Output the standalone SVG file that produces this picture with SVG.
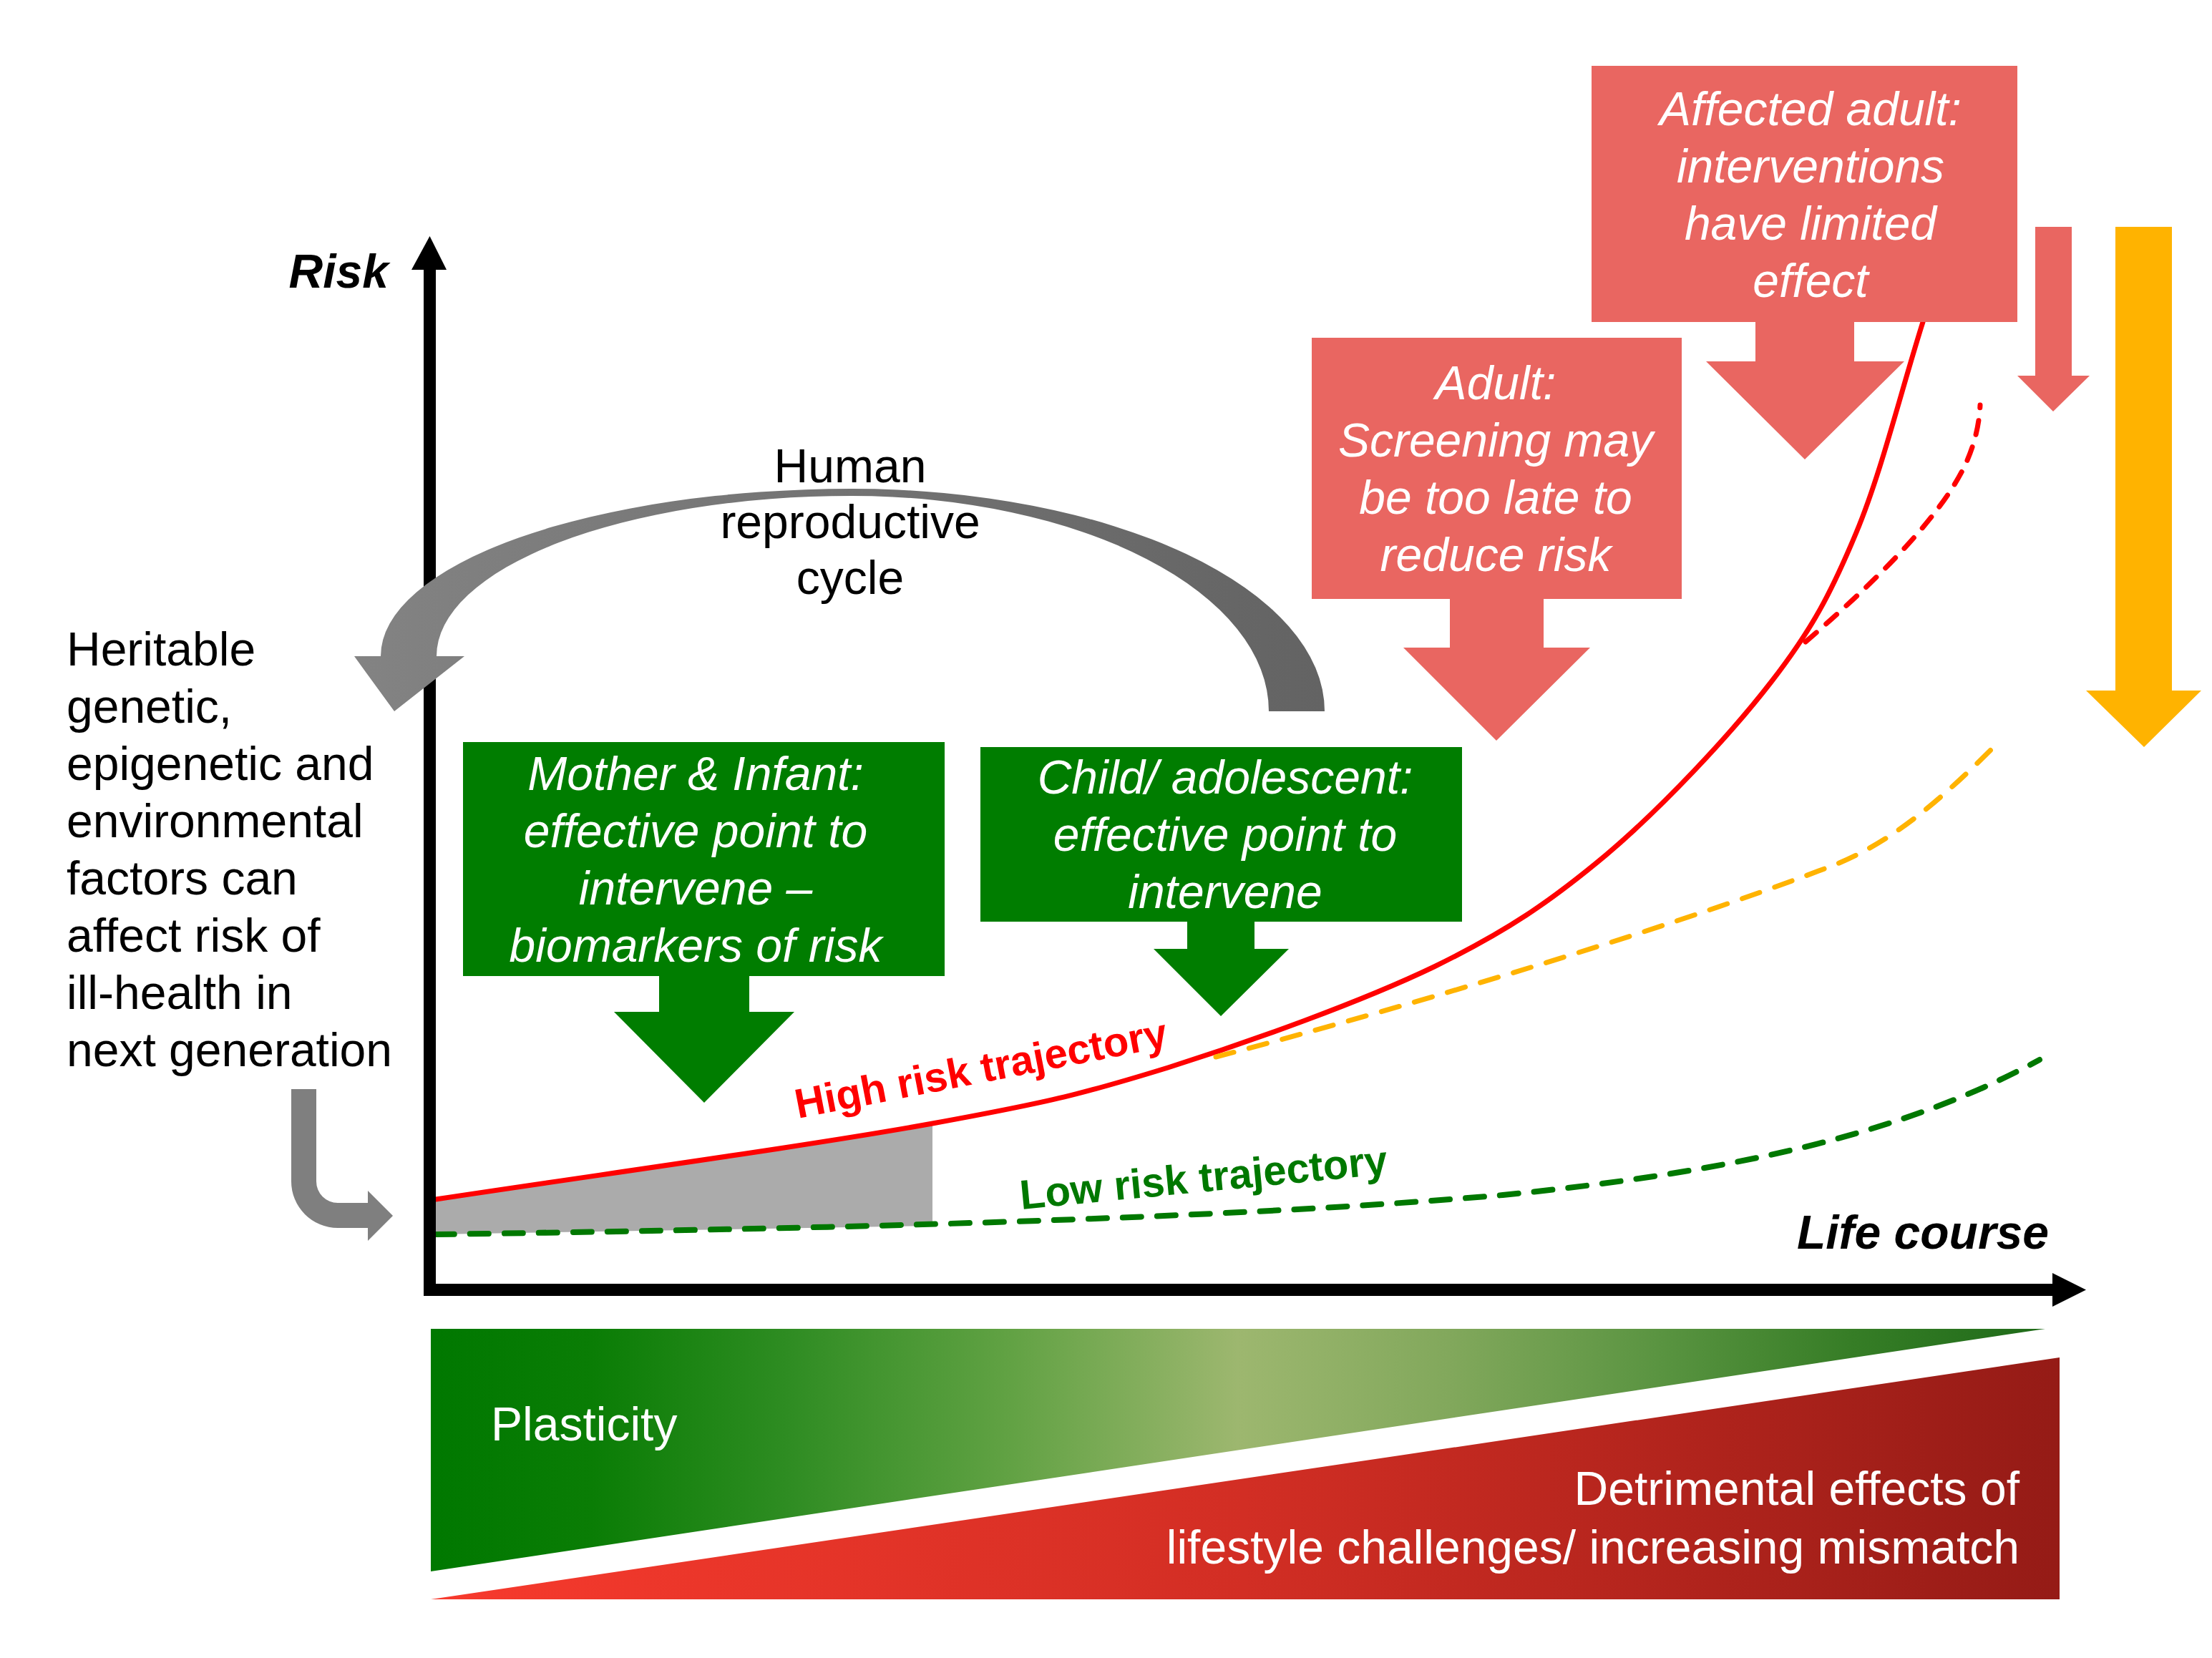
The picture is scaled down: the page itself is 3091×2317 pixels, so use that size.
<svg xmlns="http://www.w3.org/2000/svg" width="3091" height="2317" viewBox="0 0 3091 2317">
<defs>
<linearGradient id="gArc" x1="495" y1="0" x2="1851" y2="0" gradientUnits="userSpaceOnUse"><stop offset="0" stop-color="#838383"/><stop offset="1" stop-color="#636363"/></linearGradient>
<linearGradient id="gGreen" x1="602" y1="0" x2="2858" y2="0" gradientUnits="userSpaceOnUse">
<stop offset="0" stop-color="#007800"/><stop offset="0.1" stop-color="#0a7d05"/><stop offset="0.22" stop-color="#2e8c22"/><stop offset="0.36" stop-color="#62a244"/><stop offset="0.5" stop-color="#9db76f"/><stop offset="0.63" stop-color="#82a85c"/><stop offset="0.76" stop-color="#5a9441"/><stop offset="0.88" stop-color="#367d26"/><stop offset="1" stop-color="#1f6b19"/></linearGradient>
<linearGradient id="gRed" x1="602" y1="0" x2="2878" y2="0" gradientUnits="userSpaceOnUse"><stop offset="0" stop-color="#f73a2d"/><stop offset="0.5" stop-color="#d22e24"/><stop offset="1" stop-color="#951b16"/></linearGradient>
</defs>
<style>
.t{font-family:"Liberation Sans",Arial,sans-serif;font-size:66px}
.lbl{font-family:"Liberation Sans",Arial,sans-serif;font-size:58px;font-weight:bold}
.w{fill:#fff;font-style:italic;text-anchor:middle}
.k{fill:#000}
.bi{font-weight:bold;font-style:italic;fill:#000;text-anchor:end}
.redbox{fill:#e96661}
.grnbox{fill:#007d00}
.traj{fill:none;stroke-linejoin:round;stroke-linecap:round}
</style>
<rect width="3091" height="2317" fill="#fff"/>

<g id="shaded-area"><polygon points="609,1676 1303,1570 1303,1713 609,1725" fill="#ababab"/></g>

<g id="connectors">
<path class="traj" stroke="#ff0000" stroke-width="7" stroke-linecap="butt" d="M609,1676 C840,1641 1132,1601 1303,1570 C1473,1539 1515,1528 1632,1492 C1749,1455 1902,1400 2004,1351 C2106,1301 2165,1261 2244,1195 C2322,1129 2417,1028 2475,953 C2533,878 2559,828 2594,744 C2629,660 2656,548 2687,450"/>
<path class="traj" stroke="#ff0000" stroke-width="7" stroke-dasharray="20 18" d="M2523,897 Q2700,745 2745,652 Q2765,610 2767,566"/>
<path class="traj" stroke="#ffb300" stroke-width="7" stroke-dasharray="26 22" d="M1699,1477 C1900,1425 2300,1310 2560,1210 C2650,1175 2720,1110 2797,1033"/>
<path class="traj" stroke="#007800" stroke-width="8" stroke-dasharray="26 22" d="M609,1725 C1100,1718 1700,1705 2100,1670 C2400,1640 2650,1590 2850,1481"/>
</g>

<g id="axes">
<rect x="592" y="377" width="17" height="1434" fill="#000"/>
<polygon points="575,377 624,377 600.5,330" fill="#000"/>
<rect x="592" y="1794" width="2276" height="17" fill="#000"/>
<polygon points="2868,1779 2868,1826 2915,1802.5" fill="#000"/>
<text class="t bi" x="543" y="402">Risk</text>
<text class="t bi" x="2863" y="1745">Life course</text>
</g>

<g id="cycle-arrow">
<path fill="url(#gArc)" d="M1851,994 A661,311 0 0 0 1190,683 A658,234 0 0 0 532,917 L495,917 L551,994 L649,917 L610,917 A580,224 0 0 1 1190,693 A583,301 0 0 1 1773,994 Z"/>
<text class="t k" text-anchor="middle"><tspan x="1188" y="674">Human</tspan><tspan x="1188" y="752">reproductive</tspan><tspan x="1188" y="830">cycle</tspan></text>
</g>

<g id="heritable">
<text class="t k"><tspan x="93" y="930">Heritable</tspan><tspan x="93" y="1010">genetic,</tspan><tspan x="93" y="1090">epigenetic and</tspan><tspan x="93" y="1170">environmental</tspan><tspan x="93" y="1250">factors can</tspan><tspan x="93" y="1330">affect risk of</tspan><tspan x="93" y="1410">ill-health in</tspan><tspan x="93" y="1490">next generation</tspan></text>
<path fill="#7f7f7f" d="M407,1522 L442,1522 L442,1651 A30,30 0 0 0 472,1681 L514,1681 L514,1664 L549,1699 L514,1734 L514,1716 L472,1716 A65,65 0 0 1 407,1651 Z"/>
</g>

<g id="mother-infant">
<path class="grnbox" d="M647,1037 H1320 V1364 H1047 V1414 H1110 L984,1541 L858,1414 H921 V1364 H647 Z"/>
<text class="t w"><tspan x="972" y="1104">Mother &amp; Infant:</tspan><tspan x="972" y="1184">effective point to</tspan><tspan x="972" y="1264">intervene –</tspan><tspan x="972" y="1344">biomarkers of risk</tspan></text>
</g>

<g id="child-adolescent">
<path class="grnbox" d="M1370,1044 H2043 V1288 H1753 V1326 H1801 L1706,1420 L1612,1326 H1659 V1288 H1370 Z"/>
<text class="t w"><tspan x="1712" y="1109">Child/ adolescent:</tspan><tspan x="1712" y="1189">effective point to</tspan><tspan x="1712" y="1269">intervene</tspan></text>
</g>

<g id="adult">
<path class="redbox" d="M1833,472 H2350 V837 H2157 V905 H2222 L2091,1035 L1961,905 H2026 V837 H1833 Z"/>
<text class="t w"><tspan x="2090" y="558">Adult:</tspan><tspan x="2090" y="638">Screening may</tspan><tspan x="2090" y="718">be too late to</tspan><tspan x="2090" y="798">reduce risk</tspan></text>
</g>

<g id="affected-adult">
<path class="redbox" d="M2224,92 H2819 V450 H2591 V505 H2661 L2522,642 L2384,505 H2453 V450 H2224 Z"/>
<text class="t w"><tspan x="2530" y="175">Affected adult:</tspan><tspan x="2530" y="255">interventions</tspan><tspan x="2530" y="335">have limited</tspan><tspan x="2530" y="415">effect</tspan></text>
</g>

<g id="small-red-arrow"><path class="redbox" d="M2844,317 H2895 V525 H2920 L2869,575 L2819,525 H2844 Z"/></g>
<g id="yellow-arrow"><path fill="#ffb300" d="M2956,317 H3035 V965 H3076 L2996,1044 L2915,965 H2956 Z"/></g>

<g id="trajectory-labels">
<text class="lbl" x="1115" y="1563" fill="#ff0000" transform="rotate(-11 1115 1563)">High risk trajectory</text>
<text class="lbl" x="1427" y="1690" fill="#007800" transform="rotate(-5.5 1427 1690)">Low risk trajectory</text>
</g>

<g id="plasticity">
<polygon points="602,1857 2858,1857 602,2196" fill="url(#gGreen)"/>
<text class="t" x="686" y="2013" fill="#fff">Plasticity</text>
</g>
<g id="detrimental">
<polygon points="602,2235 2878,1897 2878,2235" fill="url(#gRed)"/>
<text class="t" fill="#fff" text-anchor="end"><tspan x="2822" y="2103">Detrimental effects of</tspan><tspan x="2822" y="2185">lifestyle challenges/ increasing mismatch</tspan></text>
</g>
</svg>
